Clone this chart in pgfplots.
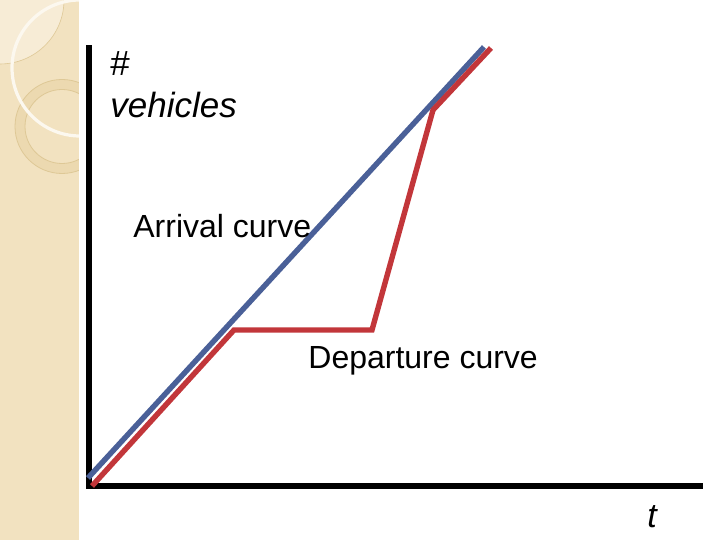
\documentclass[border=0pt]{standalone}
\usepackage{pgfplots}
\pgfplotsset{compat=1.18}
\usepackage{fontspec}
\setmainfont{Liberation Sans}
\definecolor{stripcol}{RGB}{242,226,192}
\definecolor{lightcol}{RGB}{247,236,214}
\definecolor{ringcol}{RGB}{236,217,176}
\definecolor{ringline}{RGB}{222,200,150}
\definecolor{arrblue}{RGB}{74,96,152}
\definecolor{depred}{RGB}{194,54,58}
\begin{document}
\begin{tikzpicture}[x=0.5pt,y=0.5pt]
\useasboundingbox (0,0) rectangle (720,540);
\begin{scope}
\clip (0,0) rectangle (79,540);
\fill[stripcol] (0,0) rectangle (79,540);
\fill[lightcol] (0,540) circle (64);
\draw[ringline, line width=0.3pt] (0,540) circle (64);
\fill[ringcol, even odd rule] (62,413.5) circle (47) (62,413.5) circle (37);
\draw[ringline, line width=0.4pt] (62,413.5) circle (47) (62,413.5) circle (37);
\draw[white!75!stripcol, line width=1.6pt] (80,472) circle (68);
\end{scope}
\begin{axis}[at={(0,0)}, anchor=south west, scale only axis,
  width=360pt, height=270pt, xmin=0, xmax=720, ymin=0, ymax=540,
  hide axis, clip=false]
% axes lines
\addplot[black, line width=2.6pt, line cap=rect] coordinates {(89,492) (89,54)};
\addplot[black, line width=2.6pt, line cap=rect] coordinates {(89,54) (700,54)};
% arrival curve
\addplot[arrblue, line width=2.7pt] coordinates {(88,62) (484,493)};
% departure curve
\addplot[depred, line width=2.7pt, line join=miter] coordinates {(92,54) (234,210) (372,210) (433,430) (491,492)};
\node[anchor=base west, font=\fontsize{17.5}{21}\selectfont, inner sep=0pt] at (axis cs:110,464) {\#};
\node[anchor=base west, font=\fontsize{17.5}{21}\selectfont\itshape, inner sep=0pt] at (axis cs:110,422) {vehicles};
\node[anchor=base west, font=\fontsize{16}{19}\selectfont, inner sep=0pt] at (axis cs:133,302) {Arrival curve};
\node[anchor=base west, font=\fontsize{16}{19}\selectfont, inner sep=0pt] at (axis cs:308,171) {Departure curve};
\node[anchor=base west, font=\fontsize{17}{20}\selectfont\itshape, inner sep=0pt] at (axis cs:647,12) {t};
\end{axis}
\end{tikzpicture}
\end{document}
